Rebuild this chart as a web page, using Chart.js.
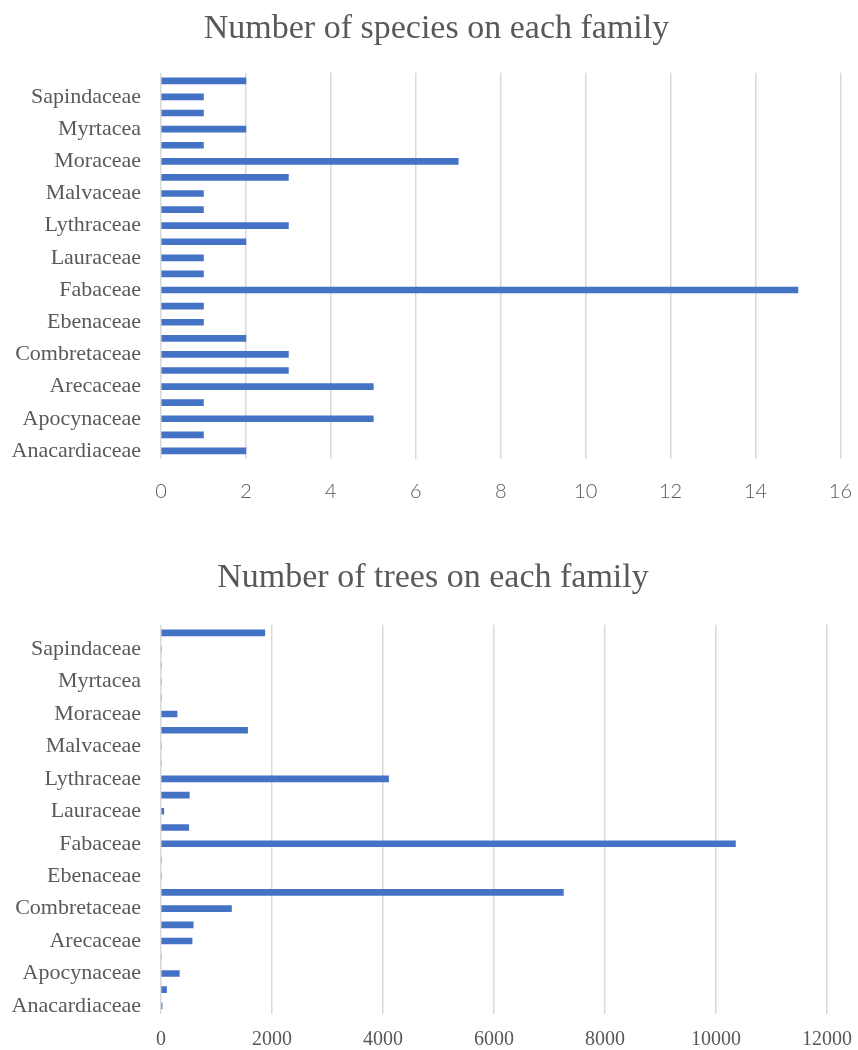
<!DOCTYPE html>
<html>
<head>
<meta charset="utf-8">
<script src="https://cdn.jsdelivr.net/npm/chart.js@4"></script>
<style>
  html, body { margin: 0; padding: 0; background: #fff; overflow: hidden; }
  .box { position: absolute; left: 0; }
  #top { top: 0; width: 873px; height: 525px; }
  #bottom { top: 525px; width: 866px; height: 541px; }
</style>
</head>
<body>
<div class="box" id="top"><canvas id="speciesChart"></canvas></div>
<div class="box" id="bottom"><canvas id="treesChart"></canvas></div>
<script>
// Families, bottom to top (only every other one gets a label, like the original)
const families = [
    'Anacardiaceae', 'Annonaceae', 'Apocynaceae', 'Araliaceae', 'Arecaceae',
    'Bignoniaceae', 'Combretaceae', 'Dipterocarpaceae', 'Ebenaceae', 'Euphorbiaceae',
    'Fabaceae', 'Lamiaceae', 'Lauraceae', 'Lecythidaceae', 'Lythraceae',
    'Magnoliaceae', 'Malvaceae', 'Meliaceae', 'Moraceae', 'Moringaceae',
    'Myrtacea', 'Rutaceae', 'Sapindaceae', 'Sapotaceae'
];

// Number of species per family
const speciesCounts = [2, 1, 5, 1, 5, 3, 3, 2, 1, 1, 15, 1, 1, 2, 3, 1, 1, 3, 7, 1, 2, 1, 1, 2];

// Number of trees per family
const treeCounts = [20, 100, 330, 0, 560, 580, 1270, 7250, 0, 0, 10350, 500, 50, 510, 4100, 0, 0, 1560, 290, 0, 0, 0, 0, 1870];

const speciesTicks = { min: 0, max: 16, step: 2 };
const treeTicks = { min: 0, max: 12000, step: 2000 };

const textColor = '#595959';
const barColor = '#4472C4';
const gridColor = '#d9d9d9';
const serif = '"Liberation Serif", "Times New Roman", serif';

function makeChart(canvasId, title, values, range, xFont, pad) {
    const ctx = document.getElementById(canvasId).getContext('2d');
    return new Chart(ctx, {
        type: 'bar',
        data: {
            labels: families,
            datasets: [{
                data: values,
                backgroundColor: barColor,
                borderWidth: 0,
                barThickness: 6
            }]
        },
        options: {
            indexAxis: 'y',
            responsive: true,
            maintainAspectRatio: false,
            animation: false,
            layout: {
                padding: { left: 0, right: pad.right, top: 0, bottom: pad.bottom }
            },
            plugins: {
                legend: { display: false },
                tooltip: { enabled: false },
                title: {
                    display: true,
                    text: title,
                    color: textColor,
                    font: { family: serif, size: 34, weight: 'normal' },
                    padding: { top: pad.titleTop, bottom: pad.titleBottom }
                }
            },
            scales: {
                x: {
                    min: range.min,
                    max: range.max,
                    grid: { color: gridColor, lineWidth: 1.5, drawTicks: false },
                    border: { display: false },
                    ticks: {
                        stepSize: range.step,
                        color: textColor,
                        padding: pad.xTick,
                        font: xFont,
                        maxRotation: 0,
                        callback: function(value) {
                            return String(value);
                        }
                    }
                },
                y: {
                    reverse: true,
                    grid: { display: false },
                    border: { display: false },
                    afterFit: function(scale) {
                        scale.width = 161;
                    },
                    ticks: {
                        autoSkip: false,
                        color: textColor,
                        padding: 12,
                        font: { family: serif, size: 22 },
                        callback: function(value, index) {
                            return index % 2 === 0 ? families[index] : '';
                        }
                    }
                }
            }
        }
    });
}

makeChart('speciesChart', 'Number of species on each family', speciesCounts, speciesTicks,
    { family: 'Lato, "Open Sans", sans-serif', size: 20, weight: '300' },
    { right: 0, bottom: 0, titleTop: 9, titleBottom: 23, xTick: 21 });

makeChart('treesChart', 'Number of trees on each family', treeCounts, treeTicks,
    { family: serif, size: 20 },
    { right: 0, bottom: 0, titleTop: 33, titleBottom: 26, xTick: 14 });
</script>
</body>
</html>
